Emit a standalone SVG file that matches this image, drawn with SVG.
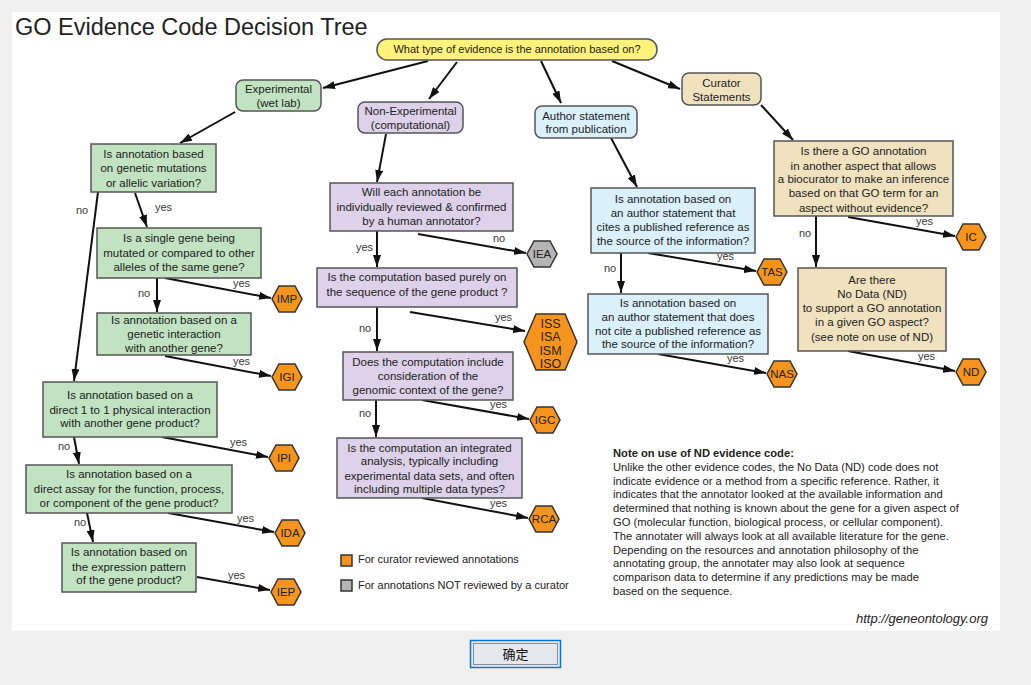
<svg xmlns="http://www.w3.org/2000/svg" width="1031" height="685" viewBox="0 0 1031 685">
<style>
text{font-family:"Liberation Sans",Arial,sans-serif;fill:#222}
.t{font-size:11.5px;text-anchor:middle}
.lb{font-size:11px;fill:#3a3a3a}
.hx{font-size:11.5px;text-anchor:middle}
.box{stroke:#555;stroke-width:1.5}
.g{fill:#c1e3c1}.p{fill:#ddd2ea}.b{fill:#daf0fb}.y{fill:#f1e2bf}
.c line{stroke:#111;stroke-width:2;marker-end:url(#ah)}
.note{font-size:11.2px}
</style>
<defs>
<marker id="ah" viewBox="0 0 12 8" refX="12" refY="4" markerWidth="12" markerHeight="8" orient="auto" markerUnits="userSpaceOnUse"><path d="M0,0 L12,4 L0,8 z" fill="#111"/></marker>
<polygon id="hex" points="-15,0 -8,-13 8,-13 15,0 8,13 -8,13" stroke="#333" stroke-width="1.5"/>
</defs>
<rect width="1031" height="685" fill="#f0f0f0"/>
<rect x="12" y="12" width="988" height="619" fill="#fff"/>
<text x="15" y="35" style="font-size:23.5px">GO Evidence Code Decision Tree</text>

<g class="c" id="connectors">
<line x1="428" y1="61" x2="323" y2="88"/>
<line x1="457" y1="62" x2="429" y2="99"/>
<line x1="541" y1="61" x2="561" y2="103"/>
<line x1="612" y1="61" x2="680" y2="89"/>
<line x1="235" y1="112" x2="180" y2="143"/>
<line x1="135" y1="193" x2="147" y2="227"/>
<line x1="98" y1="192" x2="74" y2="381"/>
<line x1="157" y1="278" x2="157" y2="312"/>
<line x1="165" y1="278" x2="271" y2="298"/>
<line x1="165" y1="356" x2="271" y2="376"/>
<line x1="162" y1="437" x2="268" y2="457"/>
<line x1="74" y1="437" x2="79" y2="464"/>
<line x1="168" y1="513" x2="274" y2="532"/>
<line x1="87" y1="513" x2="93" y2="542"/>
<line x1="197" y1="577" x2="270" y2="590"/>
<line x1="386" y1="134" x2="377" y2="182"/>
<line x1="377" y1="231" x2="377" y2="267"/>
<line x1="418" y1="234" x2="526" y2="253"/>
<line x1="377" y1="307" x2="377" y2="351"/>
<line x1="410" y1="312" x2="525" y2="331"/>
<line x1="376" y1="400" x2="376" y2="437"/>
<line x1="422" y1="400" x2="529" y2="419"/>
<line x1="422" y1="498" x2="528" y2="518"/>
<line x1="611" y1="138" x2="637" y2="187"/>
<line x1="621" y1="253" x2="621" y2="293"/>
<line x1="648" y1="253" x2="756" y2="271"/>
<line x1="658" y1="354" x2="766" y2="373"/>
<line x1="761" y1="105" x2="793" y2="140"/>
<line x1="816" y1="216" x2="816" y2="267"/>
<line x1="848" y1="217" x2="955" y2="236"/>
<line x1="848" y1="351" x2="955" y2="371"/>
</g>

<g id="labels">
<text class="lb" x="155" y="211">yes</text>
<text class="lb" x="76" y="214">no</text>
<text class="lb" x="138" y="297">no</text>
<text class="lb" x="233" y="287">yes</text>
<text class="lb" x="233" y="365">yes</text>
<text class="lb" x="230" y="446">yes</text>
<text class="lb" x="58" y="450">no</text>
<text class="lb" x="237" y="522">yes</text>
<text class="lb" x="74" y="526">no</text>
<text class="lb" x="228" y="579">yes</text>
<text class="lb" x="356" y="251">yes</text>
<text class="lb" x="493" y="242">no</text>
<text class="lb" x="359" y="332">no</text>
<text class="lb" x="495" y="321">yes</text>
<text class="lb" x="359" y="417">no</text>
<text class="lb" x="490" y="408">yes</text>
<text class="lb" x="490" y="507">yes</text>
<text class="lb" x="604" y="272">no</text>
<text class="lb" x="717" y="260">yes</text>
<text class="lb" x="727" y="362">yes</text>
<text class="lb" x="799" y="237">no</text>
<text class="lb" x="916" y="225">yes</text>
<text class="lb" x="918" y="360">yes</text>
</g>

<g id="root"><rect x="377" y="39" width="280" height="21" rx="10" fill="#fff37c" class="box"/><text class="t" x="517" y="53" style="font-size:11px">What type of evidence is the annotation based on?</text></g>
<g id="experimental"><rect x="236" y="80" width="85" height="31" rx="7" class="box g"/><text class="t" x="278.5" y="93">Experimental</text><text class="t" x="278.5" y="107">(wet lab)</text></g>
<g id="nonexperimental"><rect x="358" y="102" width="105" height="31" rx="7" class="box p"/><text class="t" x="410.5" y="115">Non-Experimental</text><text class="t" x="410.5" y="129">(computational)</text></g>
<g id="author"><rect x="535" y="106" width="102" height="32" rx="7" class="box b"/><text class="t" x="586" y="120">Author statement</text><text class="t" x="586" y="133">from publication</text></g>
<g id="curator"><rect x="682" y="73" width="79" height="32" rx="7" class="box y"/><text class="t" x="721.5" y="87">Curator</text><text class="t" x="721.5" y="101">Statements</text></g>

<g id="q1"><rect x="91" y="144" width="125" height="48" class="box g"/><text class="t" x="153.5" y="158">Is annotation based</text><text class="t" x="153.5" y="172">on genetic mutations</text><text class="t" x="153.5" y="187">or allelic variation?</text></g>
<g id="q2"><rect x="97" y="228" width="164" height="50" class="box g"/><text class="t" x="179" y="242">Is a single gene being</text><text class="t" x="179" y="257">mutated or compared to other</text><text class="t" x="179" y="271">alleles of the same gene?</text></g>
<g id="q3"><rect x="97" y="313" width="154" height="42" class="box g"/><text class="t" x="174" y="324">Is annotation based on a</text><text class="t" x="174" y="338">genetic interaction</text><text class="t" x="174" y="352">with another gene?</text></g>
<g id="q4"><rect x="43" y="382" width="174" height="55" class="box g"/><text class="t" x="130" y="399">Is annotation based on a</text><text class="t" x="130" y="414">direct 1 to 1 physical interaction</text><text class="t" x="130" y="427">with another gene product?</text></g>
<g id="q5"><rect x="26" y="465" width="206" height="48" class="box g"/><text class="t" x="129" y="478">Is annotation based on a</text><text class="t" x="129" y="493">direct assay for the function, process,</text><text class="t" x="129" y="507">or component of the  gene product?</text></g>
<g id="q6"><rect x="62" y="543" width="134" height="49" class="box g"/><text class="t" x="129" y="556">Is annotation based on</text><text class="t" x="129" y="571">the expression pattern</text><text class="t" x="129" y="584">of the  gene product?</text></g>

<g id="c1"><rect x="330" y="183" width="183" height="48" class="box p"/><text class="t" x="421.5" y="196">Will each annotation be</text><text class="t" x="421.5" y="210.5">individually reviewed &amp; confirmed</text><text class="t" x="421.5" y="225">by a human annotator?</text></g>
<g id="c2"><rect x="317" y="268" width="200" height="39" class="box p"/><text class="t" x="417" y="281">Is the computation based purely on</text><text class="t" x="417" y="296">the sequence of the gene product ?</text></g>
<g id="c3"><rect x="343" y="352" width="170" height="48" class="box p"/><text class="t" x="428" y="366">Does the computation include</text><text class="t" x="428" y="380">consideration of the</text><text class="t" x="428" y="394">genomic context of the gene?</text></g>
<g id="c4"><rect x="337" y="438" width="185" height="60" class="box p"/><text class="t" x="429.5" y="452">Is the computation an integrated</text><text class="t" x="429.5" y="465">analysis, typically including</text><text class="t" x="429.5" y="480">experimental data sets, and often</text><text class="t" x="429.5" y="493">including multiple data types?</text></g>

<g id="a1"><rect x="591" y="188" width="164" height="65" class="box b"/><text class="t" x="673" y="203">Is annotation based on</text><text class="t" x="673" y="217">an author statement that</text><text class="t" x="673" y="231">cites a published reference as</text><text class="t" x="673" y="245">the source of the information?</text></g>
<g id="a2"><rect x="588" y="294" width="180" height="60" class="box b"/><text class="t" x="678" y="307">Is annotation based on</text><text class="t" x="678" y="321">an author statement that does</text><text class="t" x="678" y="335">not cite a published reference as</text><text class="t" x="678" y="348">the source of the information?</text></g>
<g id="cs1"><rect x="774" y="141" width="179" height="75" class="box y"/><text class="t" x="863.5" y="155">Is there a GO annotation</text><text class="t" x="863.5" y="170">in another aspect that allows</text><text class="t" x="863.5" y="183">a biocurator to make an inference</text><text class="t" x="863.5" y="197">based on that GO term for an</text><text class="t" x="863.5" y="212">aspect without evidence?</text></g>
<g id="cs2"><rect x="798" y="268" width="148" height="83" class="box y"/><text class="t" x="872" y="284">Are there</text><text class="t" x="872" y="298">No Data (ND)</text><text class="t" x="872" y="312">to support a GO annotation</text><text class="t" x="872" y="326">in a given GO aspect?</text><text class="t" x="872" y="341">(see note on use of ND)</text></g>

<g id="imp"><use href="#hex" x="287" y="299" fill="#f7941d"/><text class="hx" x="287" y="303">IMP</text></g>
<g id="igi"><use href="#hex" x="287" y="377" fill="#f7941d"/><text class="hx" x="287" y="381">IGI</text></g>
<g id="ipi"><use href="#hex" x="284" y="458" fill="#f7941d"/><text class="hx" x="284" y="462">IPI</text></g>
<g id="ida"><use href="#hex" x="290" y="533" fill="#f7941d"/><text class="hx" x="290" y="537">IDA</text></g>
<g id="iep"><use href="#hex" x="286" y="592" fill="#f7941d"/><text class="hx" x="286" y="596">IEP</text></g>
<g id="iea"><use href="#hex" x="542" y="254" fill="#b5b5b5"/><text class="hx" x="542" y="258">IEA</text></g>
<g id="iss"><polygon points="524,342 536,314 565,314 577,342 565,370 536,370" fill="#f7941d" stroke="#333" stroke-width="1.5"/><text class="hx" x="550.5" y="328" style="font-size:12.5px">ISS</text><text class="hx" x="550.5" y="341" style="font-size:12.5px">ISA</text><text class="hx" x="550.5" y="355" style="font-size:12.5px">ISM</text><text class="hx" x="550.5" y="368" style="font-size:12.5px">ISO</text></g>
<g id="igc"><use href="#hex" x="545" y="420" fill="#f7941d"/><text class="hx" x="545" y="424">IGC</text></g>
<g id="rca"><use href="#hex" x="544" y="519" fill="#f7941d"/><text class="hx" x="544" y="523">RCA</text></g>
<g id="tas"><use href="#hex" x="772" y="272" fill="#f7941d"/><text class="hx" x="772" y="276">TAS</text></g>
<g id="nas"><use href="#hex" x="782" y="374" fill="#f7941d"/><text class="hx" x="782" y="378">NAS</text></g>
<g id="ic"><use href="#hex" x="971" y="237" fill="#f7941d"/><text class="hx" x="971" y="241">IC</text></g>
<g id="nd"><use href="#hex" x="971" y="372" fill="#f7941d"/><text class="hx" x="971" y="376">ND</text></g>

<g id="legend">
<rect x="341" y="555" width="11" height="11" fill="#f7941d" stroke="#333" stroke-width="1.5"/>
<text x="358" y="563" style="font-size:11px">For curator reviewed annotations</text>
<rect x="341" y="580" width="11" height="11" fill="#b5b5b5" stroke="#333" stroke-width="1.5"/>
<text x="358" y="589" style="font-size:11px">For annotations NOT reviewed by a curator</text>
</g>

<g id="note" class="note">
<text x="613" y="457" style="font-weight:bold">Note on use of ND evidence code:</text>
<text x="613" y="470.8">Unlike the other evidence codes, the No Data (ND) code does not</text>
<text x="613" y="484.6">indicate evidence or a method from a specific reference. Rather, it</text>
<text x="613" y="498.4">indicates that the annotator looked at the available information and</text>
<text x="613" y="512.2">determined that nothing is known about the gene for a given aspect of</text>
<text x="613" y="526">GO (molecular function, biological process, or cellular component).</text>
<text x="613" y="539.8">The annotater will always look at all available literature for the gene.</text>
<text x="613" y="553.6">Depending on the resources and annotation philosophy of the</text>
<text x="613" y="567.4">annotating group, the annotater may also look at sequence</text>
<text x="613" y="581.2">comparison data to determine if any predictions may be made</text>
<text x="613" y="595">based on the sequence.</text>
</g>
<text x="988" y="623" style="font-size:13px;font-style:italic;text-anchor:end">http://geneontology.org</text>

<g id="button">
<rect x="470.5" y="640.5" width="90" height="27" fill="#e5e8ee" stroke="#0078d7" stroke-width="1.5"/>
<rect x="473.5" y="643.5" width="84" height="21" fill="none" stroke="#333" stroke-width="1" stroke-dasharray="1,1"/>
<text x="515.5" y="659" style="font-family:'Noto Sans CJK SC',sans-serif;font-size:13px;text-anchor:middle;fill:#111">确定</text>
</g>
</svg>
